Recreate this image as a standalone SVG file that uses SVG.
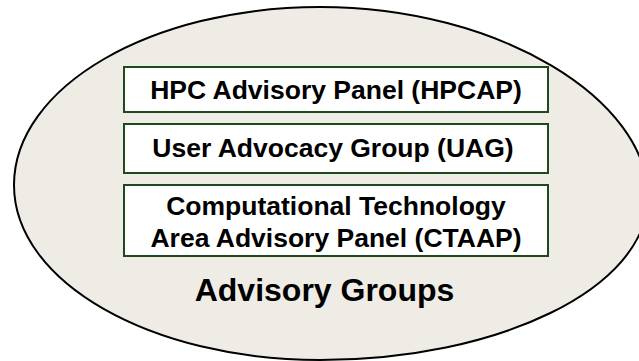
<svg xmlns="http://www.w3.org/2000/svg" width="639" height="361" viewBox="0 0 639 361">
<style>
.box{fill:#ffffff;stroke:#1c4a1c;stroke-width:2}
.t{font-family:"Liberation Sans",Arial,sans-serif;font-weight:bold;fill:#000;text-anchor:middle}
.n{font-size:26.5px}
</style>
<rect width="639" height="361" fill="#ffffff"/>
<g id="advisory-groups">
<path d="M320,7 C500,7 648,100 648,197 C648,289 497,360 320,360 C151,360 14,282 14,185 C14,87 151,7 320,7 Z" fill="#efece6" stroke="#000" stroke-width="2"/>
<text class="t" x="324.5" y="301" font-size="32">Advisory Groups</text>
</g>
<g id="hpcap">
<rect class="box" x="124" y="67" width="424" height="45"/>
<text class="t n" x="336" y="99">HPC Advisory Panel (HPCAP)</text>
</g>
<g id="uag">
<rect class="box" x="124" y="124" width="424" height="49"/>
<text class="t n" x="333" y="157">User Advocacy Group (UAG)</text>
</g>
<g id="ctaap">
<rect class="box" x="124" y="185" width="424" height="71"/>
<text class="t n" x="336" y="215">Computational Technology</text>
<text class="t n" x="336" y="247">Area Advisory Panel (CTAAP)</text>
</g>
<g id="connectors"/>
</svg>
